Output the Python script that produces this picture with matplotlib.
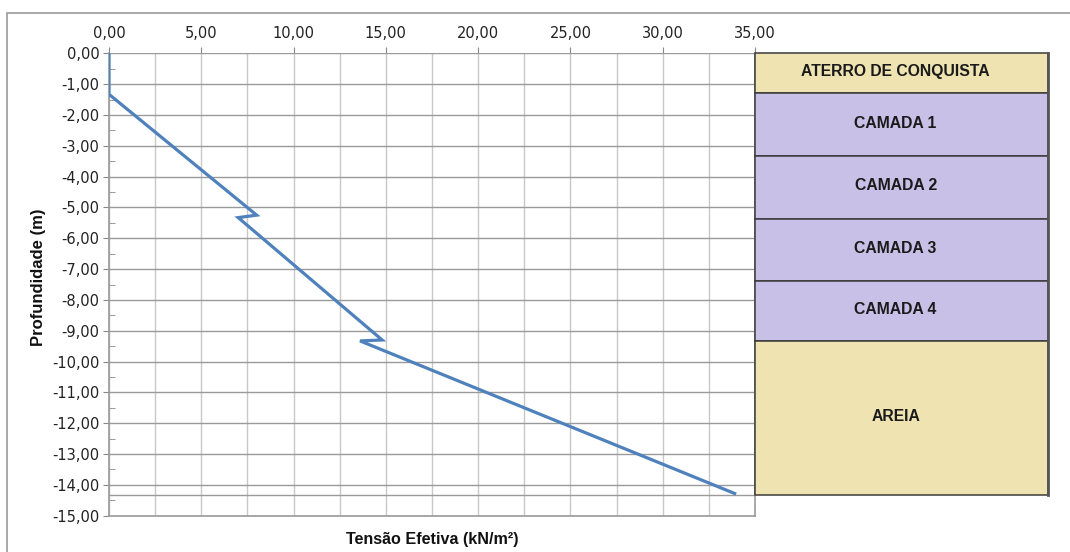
import matplotlib
matplotlib.use("Agg")
import matplotlib.pyplot as plt
from matplotlib.patches import Rectangle
from matplotlib.ticker import FuncFormatter, MultipleLocator

# perfil de tensao efetiva
tensao = [0.0, 0.0, 8.0, 7.0, 14.8, 13.6, 33.9]
profundidade = [0.0, -1.33, -5.25, -5.33, -9.30, -9.33, -14.28]

# camadas do solo
camadas = ["ATERRO DE CONQUISTA", "CAMADA 1", "CAMADA 2", "CAMADA 3", "CAMADA 4", "AREIA"]
topo = [0.0, -1.30, -3.33, -5.37, -7.38, -9.33]
base = [-1.30, -3.33, -5.37, -7.38, -9.33, -14.33]
cores = ["#EFE3B1", "#C8C0E6", "#C8C0E6", "#C8C0E6", "#C8C0E6", "#EFE3B1"]

W, H = 1070, 552
fig = plt.figure(figsize=(W / 100, H / 100), dpi=100)

# moldura externa
fig.patches.append(Rectangle((7 / W, -0.1), 1.2, 1 - 13 / H + 0.1, transform=fig.transFigure,
                             fill=False, edgecolor="#9a9a9a", linewidth=1.2))

x0, x1 = 109, 755
y0, y1 = 53.3, 515.7
ax = fig.add_axes([x0 / W, 1 - y1 / H, (x1 - x0) / W, (y1 - y0) / H])

virgula = FuncFormatter(lambda v, pos: f"{v:.2f}".replace(".", ","))

ax.plot(tensao, profundidade, color="#4F81BD", linewidth=2.3, solid_joinstyle="miter", zorder=3)
ax.axhline(base[-1], color="#9a9a9a", linewidth=1.0, zorder=2)

ax.set_xlim(0, 35)
ax.set_ylim(-15, 0)
ax.xaxis.tick_top()
ax.xaxis.set_major_locator(MultipleLocator(5))
ax.xaxis.set_minor_locator(MultipleLocator(2.5))
ax.yaxis.set_major_locator(MultipleLocator(1))
ax.yaxis.set_minor_locator(MultipleLocator(0.5))
ax.xaxis.set_major_formatter(virgula)
ax.yaxis.set_major_formatter(virgula)

ax.grid(True, axis="x", which="both", color="#c8c8c8", linewidth=1.0)
ax.grid(True, axis="y", which="major", color="#9a9a9a", linewidth=1.0)
ax.set_axisbelow(True)

ax.tick_params(axis="x", which="major", direction="out", length=4, color="#888888",
               labelsize=10.5, pad=5, labelcolor="#222222")
ax.tick_params(axis="x", which="minor", length=0)
ax.tick_params(axis="y", which="major", direction="out", length=4, color="#888888",
               labelsize=10.5, pad=3, labelcolor="#222222")
ax.tick_params(axis="y", which="minor", direction="in", length=4, color="#888888")
for lab in ax.get_xticklabels() + ax.get_yticklabels():
    lab.set_family("DejaVu Sans")

ax.spines["top"].set_visible(False)
for s in ["left", "right", "bottom"]:
    ax.spines[s].set_color("#9a9a9a")
    ax.spines[s].set_linewidth(1.2)

ax.set_xlabel("Tensão Efetiva (kN/m²)", fontsize=11.6, fontweight="bold",
              family="Liberation Sans", color="#111111")
ax.xaxis.set_label_position("bottom")
ax.xaxis.labelpad = 12
ax.set_ylabel("Profundidade (m)", fontsize=12, fontweight="bold",
              family="Liberation Sans", color="#111111")
ax.yaxis.set_label_coords(-0.0975, 0.515)

# tabela das camadas
tx0, tx1 = 755, 1048
tab = fig.add_axes([tx0 / W, 1 - y1 / H, (tx1 - tx0) / W, (y1 - y0) / H], sharey=ax)
tab.set_xlim(0, 1)
tab.axis("off")
for nome, t, b, c in zip(camadas, topo, base, cores):
    tab.add_patch(Rectangle((0, b), 1, t - b, facecolor=c, edgecolor="#3a3a3a",
                            linewidth=1.1, clip_on=False))
    tab.text(0.48, (t + b) / 2 + 0.05, nome, ha="center", va="center", fontsize=11.3,
             fontweight="bold", family="Liberation Sans", color="#1a1a1a")
tab.plot([1, 1], [topo[0], base[-1]], color="#555555", linewidth=2.0, clip_on=False)

fig.savefig("out.png", dpi=100)
